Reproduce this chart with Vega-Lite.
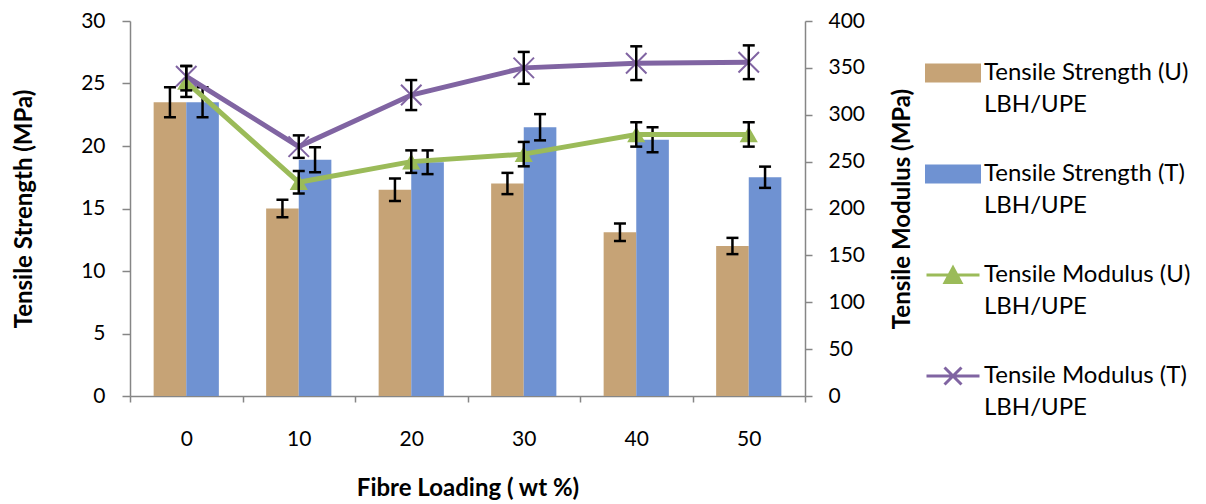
{
  "$schema": "https://vega.github.io/schema/vega-lite/v6.json",
  "width": 675,
  "height": 375,
  "autosize": {"type": "none"},
  "padding": {"left": 130, "top": 21, "right": 401, "bottom": 108},
  "background": "white",
  "config": {
    "font": "Lato",
    "view": {"stroke": null},
    "axis": {
      "grid": false,
      "domainColor": "#868686",
      "tickColor": "#868686",
      "domainWidth": 1.5,
      "tickWidth": 1.5,
      "labelFont": "Lato",
      "labelFontSize": 21,
      "labelColor": "#000000",
      "titleFont": "Lato",
      "titleFontSize": 24,
      "titleFontWeight": "bold",
      "titleColor": "#000000"
    }
  },
  "data": {
    "values": [
      {"loading": 0, "kind": "S", "series": "Tensile Strength (U)|LBH/UPE", "value": 23.5, "lo": 22.3, "hi": 24.7},
      {"loading": 10, "kind": "S", "series": "Tensile Strength (U)|LBH/UPE", "value": 15.0, "lo": 14.3, "hi": 15.7},
      {"loading": 20, "kind": "S", "series": "Tensile Strength (U)|LBH/UPE", "value": 16.5, "lo": 15.6, "hi": 17.4},
      {"loading": 30, "kind": "S", "series": "Tensile Strength (U)|LBH/UPE", "value": 17.0, "lo": 16.15, "hi": 17.85},
      {"loading": 40, "kind": "S", "series": "Tensile Strength (U)|LBH/UPE", "value": 13.1, "lo": 12.4, "hi": 13.8},
      {"loading": 50, "kind": "S", "series": "Tensile Strength (U)|LBH/UPE", "value": 12.0, "lo": 11.35, "hi": 12.65},
      {"loading": 0, "kind": "S", "series": "Tensile Strength (T)|LBH/UPE", "value": 23.5, "lo": 22.3, "hi": 24.7},
      {"loading": 10, "kind": "S", "series": "Tensile Strength (T)|LBH/UPE", "value": 18.9, "lo": 17.9, "hi": 19.9},
      {"loading": 20, "kind": "S", "series": "Tensile Strength (T)|LBH/UPE", "value": 18.7, "lo": 17.75, "hi": 19.65},
      {"loading": 30, "kind": "S", "series": "Tensile Strength (T)|LBH/UPE", "value": 21.5, "lo": 20.45, "hi": 22.55},
      {"loading": 40, "kind": "S", "series": "Tensile Strength (T)|LBH/UPE", "value": 20.5, "lo": 19.5, "hi": 21.5},
      {"loading": 50, "kind": "S", "series": "Tensile Strength (T)|LBH/UPE", "value": 17.5, "lo": 16.65, "hi": 18.35},
      {"loading": 0, "kind": "M", "series": "Tensile Modulus (U)|LBH/UPE", "value": 335, "lo": 319, "hi": 352},
      {"loading": 10, "kind": "M", "series": "Tensile Modulus (U)|LBH/UPE", "value": 228, "lo": 216, "hi": 240},
      {"loading": 20, "kind": "M", "series": "Tensile Modulus (U)|LBH/UPE", "value": 250, "lo": 238, "hi": 262},
      {"loading": 30, "kind": "M", "series": "Tensile Modulus (U)|LBH/UPE", "value": 258, "lo": 245, "hi": 271},
      {"loading": 40, "kind": "M", "series": "Tensile Modulus (U)|LBH/UPE", "value": 279, "lo": 266, "hi": 292},
      {"loading": 50, "kind": "M", "series": "Tensile Modulus (U)|LBH/UPE", "value": 279, "lo": 266, "hi": 292},
      {"loading": 0, "kind": "M", "series": "Tensile Modulus (T)|LBH/UPE", "value": 341, "lo": 326, "hi": 352},
      {"loading": 10, "kind": "M", "series": "Tensile Modulus (T)|LBH/UPE", "value": 266, "lo": 254, "hi": 278},
      {"loading": 20, "kind": "M", "series": "Tensile Modulus (T)|LBH/UPE", "value": 321, "lo": 305, "hi": 337},
      {"loading": 30, "kind": "M", "series": "Tensile Modulus (T)|LBH/UPE", "value": 350, "lo": 333, "hi": 367},
      {"loading": 40, "kind": "M", "series": "Tensile Modulus (T)|LBH/UPE", "value": 355, "lo": 337, "hi": 373},
      {"loading": 50, "kind": "M", "series": "Tensile Modulus (T)|LBH/UPE", "value": 356, "lo": 338, "hi": 374}
    ]
  },
  "layer": [
    {
      "transform": [{"filter": "datum.kind == 'S'"}],
      "encoding": {
        "x": {
          "field": "loading", "type": "ordinal",
          "scale": {"paddingInner": 0, "paddingOuter": 0},
          "axis": {"title": "Fibre Loading ( wt %)", "labelAngle": 0, "tickBand": "extent", "tickSize": 6, "labelPadding": 26, "titlePadding": 27}
        },
        "xOffset": {
          "field": "series",
          "scale": {"domain": ["Tensile Strength (U)|LBH/UPE", "Tensile Strength (T)|LBH/UPE"], "paddingInner": 0, "paddingOuter": 0.725}
        }
      },
      "layer": [
        {
          "mark": {"type": "bar"},
          "encoding": {
            "y": {
              "field": "value", "type": "quantitative",
              "scale": {"domain": [0, 30]},
              "axis": {"title": "Tensile Strength (MPa)", "values": [0, 5, 10, 15, 20, 25, 30], "tickSize": 8, "labelPadding": 17, "titlePadding": 44}
            },
            "color": {
              "field": "series", "type": "nominal",
              "scale": {
                "domain": ["Tensile Strength (U)|LBH/UPE", "Tensile Strength (T)|LBH/UPE", "Tensile Modulus (U)|LBH/UPE", "Tensile Modulus (T)|LBH/UPE"],
                "range": ["#c6a376", "#6f92d2", "#9bbb59", "#8064a2"]
              },
              "legend": {
                "title": null,
                "orient": "right",
                "offset": -14,
                "padding": 24,
                "labelExpr": "split(datum.label, '|')",
                "labelFont": "Lato",
                "labelFontSize": 24,
                "labelColor": "#000000",
                "labelLimit": 400,
                "symbolSize": 2809,
                "rowPadding": 29,
                "labelOffset": 3,
                "encode": {
                  "symbols": {
                    "update": {
                      "shape": {"signal": "datum.value == 'Tensile Modulus (U)|LBH/UPE' ? 'M-1,0L1,0M-0.3,0.28L0,-0.28L0.3,0.28Z' : datum.value == 'Tensile Modulus (T)|LBH/UPE' ? 'M-1,0L1,0M-0.32,-0.32L0.32,0.32M-0.32,0.32L0.32,-0.32' : 'M-1,-0.3L1,-0.3L1,0.3L-1,0.3Z'"},
                      "fill": {"signal": "datum.value == 'Tensile Modulus (T)|LBH/UPE' ? 'transparent' : datum.value == 'Tensile Modulus (U)|LBH/UPE' ? '#9bbb59' : datum.value == 'Tensile Strength (T)|LBH/UPE' ? '#6f92d2' : '#c6a376'"},
                      "stroke": {"signal": "datum.value == 'Tensile Modulus (T)|LBH/UPE' ? '#8064a2' : datum.value == 'Tensile Modulus (U)|LBH/UPE' ? '#9bbb59' : 'transparent'"},
                      "strokeWidth": {"value": 3}
                    }
                  },
                  "labels": {"update": {"lineHeight": {"value": 32}}}
                }
              }
            }
          }
        },
        {
          "mark": {"type": "rule", "color": "#000000", "strokeWidth": 2.5},
          "encoding": {"y": {"field": "lo", "type": "quantitative"}, "y2": {"field": "hi"}}
        },
        {
          "mark": {"type": "tick", "color": "#000000", "size": 12, "thickness": 2.5, "opacity": 1},
          "encoding": {"y": {"field": "lo", "type": "quantitative"}}
        },
        {
          "mark": {"type": "tick", "color": "#000000", "size": 12, "thickness": 2.5, "opacity": 1},
          "encoding": {"y": {"field": "hi", "type": "quantitative"}}
        }
      ]
    },
    {
      "transform": [{"filter": "datum.kind == 'M'"}],
      "encoding": {
        "x": {"field": "loading", "type": "ordinal", "scale": {"paddingInner": 0, "paddingOuter": 0}}
      },
      "layer": [
        {
          "mark": {"type": "line", "strokeWidth": 5},
          "encoding": {
            "y": {
              "field": "value", "type": "quantitative",
              "scale": {"domain": [0, 400]},
              "axis": {"orient": "right", "title": "Tensile Modulus (MPa)", "values": [0, 50, 100, 150, 200, 250, 300, 350, 400], "tickSize": 7, "labelPadding": 16, "titlePadding": 50, "titleAngle": -90}
            },
            "color": {"field": "series", "type": "nominal"}
          }
        },
        {
          "transform": [{"filter": "datum.series == 'Tensile Modulus (U)|LBH/UPE'"}],
          "mark": {"type": "point", "shape": "triangle-up", "filled": true, "size": 330, "opacity": 1},
          "encoding": {
            "y": {"field": "value", "type": "quantitative"},
            "color": {"field": "series", "type": "nominal"}
          }
        },
        {
          "transform": [{"filter": "datum.series == 'Tensile Modulus (T)|LBH/UPE'"}],
          "mark": {"type": "point", "shape": "M-1,-1L1,1M-1,1L1,-1", "filled": false, "size": 420, "strokeWidth": 2, "opacity": 1},
          "encoding": {
            "y": {"field": "value", "type": "quantitative"},
            "color": {"field": "series", "type": "nominal"}
          }
        },
        {
          "mark": {"type": "rule", "color": "#000000", "strokeWidth": 2.5},
          "encoding": {"y": {"field": "lo", "type": "quantitative"}, "y2": {"field": "hi"}}
        },
        {
          "mark": {"type": "tick", "color": "#000000", "size": 12, "thickness": 2.5, "opacity": 1},
          "encoding": {"y": {"field": "lo", "type": "quantitative"}}
        },
        {
          "mark": {"type": "tick", "color": "#000000", "size": 12, "thickness": 2.5, "opacity": 1},
          "encoding": {"y": {"field": "hi", "type": "quantitative"}}
        }
      ]
    }
  ],
  "resolve": {"scale": {"y": "independent"}}
}
